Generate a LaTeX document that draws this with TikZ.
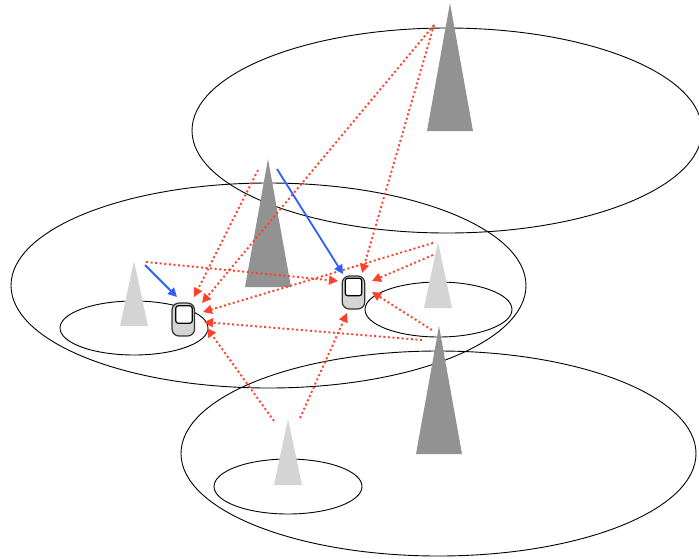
\documentclass[tikz,border=0pt]{standalone}
\usetikzlibrary{arrows.meta}
\definecolor{darktower}{RGB}{146,146,146}
\definecolor{lighttower}{RGB}{212,212,212}
\definecolor{redlink}{RGB}{255,64,43}
\definecolor{bluelink}{RGB}{45,95,255}
\tikzset{
  cell/.style={draw=black,line width=0.9pt},
  darkt/.style={fill=darktower,draw=none},
  lightt/.style={fill=lighttower,draw=none},
  interf/.style={draw=redlink,line width=1.9pt,dash pattern=on 2pt off 2.6pt,-{Triangle[length=9pt,width=9pt,fill=redlink,sep=0pt]}},
  signal/.style={draw=bluelink,line width=1.8pt,-{Triangle[length=9pt,width=9pt,fill=bluelink]}},
  phonebody/.style={draw=black!80,fill=lighttower,line width=1.2pt,rounded corners=7pt,minimum width=22.5pt,minimum height=33pt,inner sep=0pt},
  phonescreen/.style={draw=black,fill=white,line width=1.2pt,rounded corners=2.5pt,minimum width=16.5pt,minimum height=17.5pt,inner sep=0pt}
}
\begin{document}
\begin{tikzpicture}[x=1pt,y=-1pt]
\useasboundingbox (0,0) rectangle (699,558);
% cells
\draw[cell] (447,130.5) ellipse [x radius=255,y radius=102.5];
\draw[cell] (268.5,285.5) ellipse [x radius=257.5,y radius=102.5];
\draw[cell] (438.5,453.5) ellipse [x radius=257.5,y radius=102.5];
\draw[cell] (134,328) ellipse [x radius=74,y radius=27];
\draw[cell] (438.5,309.5) ellipse [x radius=73.5,y radius=27.5];
\draw[cell] (288,486.5) ellipse [x radius=74,y radius=27.5];
% towers
\fill[darkt] (450,3) -- (473,131) -- (427,131) -- cycle;
\fill[darkt] (268,159) -- (291,287) -- (245,287) -- cycle;
\fill[darkt] (439,326) -- (462,454) -- (416,454) -- cycle;
\fill[lightt] (134,261) -- (148,326) -- (120,326) -- cycle;
\fill[lightt] (438,242) -- (452,308) -- (424,308) -- cycle;
\fill[lightt] (288,419) -- (302,485) -- (274,485) -- cycle;
% phones
\node[phonebody] (phoneA) at (183.3,319.5) {};
\node[phonescreen] (screenA) at (184,314.5) {};
\node[phonebody] (phoneB) at (353.5,292.5) {};
\node[phonescreen] (screenB) at (353.5,287) {};
% free ends
\coordinate (topT) at (434,25);
\coordinate (midT) at (258,170);
\coordinate (midTb) at (277,169);
\coordinate (ltL) at (146,262);
\coordinate (ltLb) at (145,265);
\coordinate (ltRa) at (433,243);
\coordinate (ltRb) at (433,255);
\coordinate (lowTa) at (422,340);
\coordinate (lowTb) at (432,330);
\coordinate (ltBa) at (274,421);
\coordinate (ltBb) at (300,418);
\coordinate (a1) at (194,297);
\coordinate (a2) at (202,303);
\coordinate (a3) at (203,312);
\coordinate (a4) at (204,322);
\coordinate (a5) at (207,328);
\coordinate (a6) at (177,297);
\coordinate (b1) at (338,281);
\coordinate (b2) at (362,273);
\coordinate (b3) at (372,281);
\coordinate (b4) at (372,292);
\coordinate (b5) at (347,313);
\coordinate (b6) at (343,274);
% links
\draw[interf] (topT) -- (a2);
\draw[interf] (topT) -- (b2);
\draw[interf] (midT) -- (a1);
\draw[interf] (ltRa) -- (a3);
\draw[interf] (lowTa) -- (a4);
\draw[interf] (ltBa) -- (a5);
\draw[interf] (ltL) -- (b1);
\draw[interf] (ltRb) -- (b3);
\draw[interf] (lowTb) -- (b4);
\draw[interf] (ltBb) -- (b5);
\draw[signal] (ltLb) -- (a6);
\draw[signal] (midTb) -- (b6);
\end{tikzpicture}
\end{document}
